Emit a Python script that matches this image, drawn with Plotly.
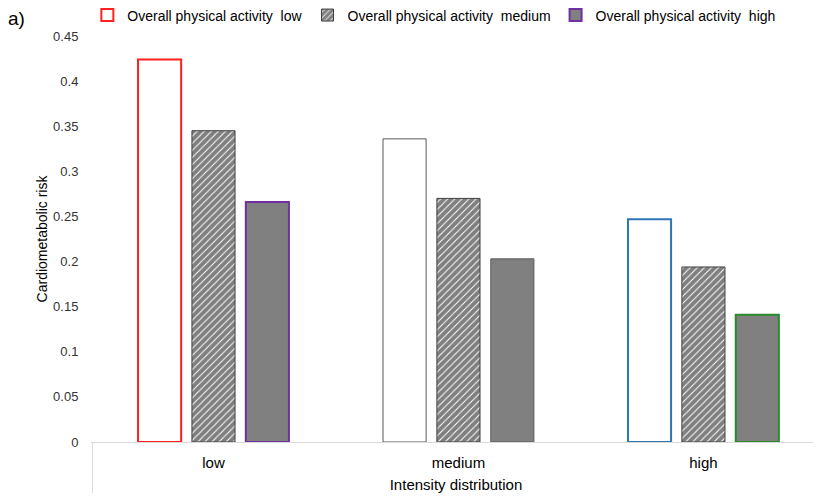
import plotly.graph_objects as go

categories = ["low", "medium", "high"]
series_names = [
    "Overall physical activity\u00a0 low",
    "Overall physical activity\u00a0 medium",
    "Overall physical activity\u00a0 high",
]
risk_low_pa = [0.424, 0.336, 0.247]
risk_medium_pa = [0.345, 0.270, 0.194]
risk_high_pa = [0.266, 0.203, 0.141]
y_ticks = [0, 0.05, 0.1, 0.15, 0.2, 0.25, 0.3, 0.35, 0.4, 0.45]

FONT = "Liberation Sans, Arial, sans-serif"

fig = go.Figure()
fig.add_trace(go.Bar(
    x=categories, y=risk_low_pa, name=series_names[0],
    marker=dict(color="white",
                line=dict(color=["#ff2020", "#595959", "#2e75b6"], width=[2, 1, 2])),
))
fig.add_trace(go.Bar(
    x=categories, y=risk_medium_pa, name=series_names[1],
    marker=dict(color="white",
                pattern=dict(shape="/", fgcolor="black", bgcolor="white", size=5, solidity=0.8),
                line=dict(color="#404040", width=1)),
))
fig.add_trace(go.Bar(
    x=categories, y=risk_high_pa, name=series_names[2],
    marker=dict(color="#808080",
                line=dict(color=["#7030a0", "#595959", "#2a8a2a"], width=[2, 1, 2])),
))

fig.update_layout(
    width=821, height=500,
    margin=dict(l=83, r=8, t=28, b=66, autoexpand=False),
    paper_bgcolor="white", plot_bgcolor="white",
    barmode="group", bargap=0.34, bargroupgap=0.2,
    font=dict(family=FONT, size=13, color="black"),
    legend=dict(orientation="h", x=-0.005, xanchor="left", y=1.09, yanchor="top",
                font=dict(size=14, family=FONT), bgcolor="rgba(0,0,0,0)",
                traceorder="normal"),
    xaxis=dict(range=[-0.5, 2.48], showline=True, linecolor="#d9d9d9", linewidth=1,
               ticks="outside", ticklen=7, tickcolor="rgba(0,0,0,0)",
               tickfont=dict(size=15, family=FONT, color="black"),
               title=dict(text="Intensity distribution", font=dict(size=15, family=FONT), standoff=9),
               showgrid=False, zeroline=False, automargin=False),
    yaxis=dict(range=[0, 0.45], tickvals=y_ticks, showgrid=False, zeroline=False,
               showline=False, ticks="outside", ticklen=9, tickcolor="rgba(0,0,0,0)",
               tickfont=dict(size=13, family=FONT, color="#333333"),
               title=dict(text="Cardiometabolic risk", font=dict(size=14, family=FONT), standoff=2),
               automargin=False),
    shapes=[dict(type="line", xref="paper", yref="paper", x0=0.002, x1=0.002, y0=0, y1=-0.126,
                 line=dict(color="#d9d9d9", width=1))],
    annotations=[dict(text="a)", xref="paper", yref="paper", x=-0.115, y=1.042,
                      xanchor="left", yanchor="middle", showarrow=False, borderpad=0,
                      font=dict(size=19, family=FONT, color="black"))],
)

fig.write_html("out.html")
